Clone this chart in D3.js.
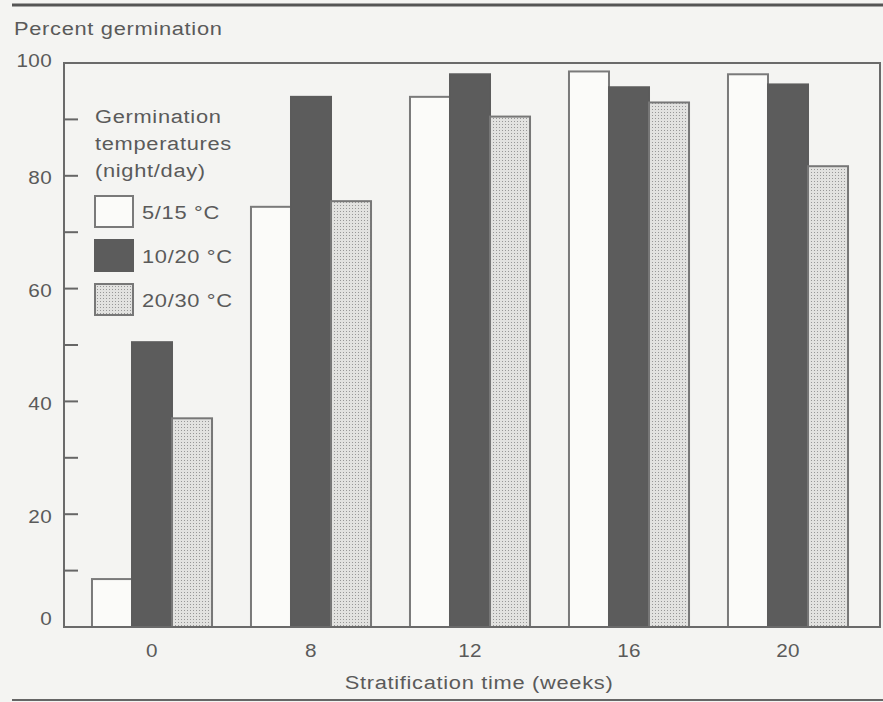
<!DOCTYPE html>
<html><head><meta charset="utf-8">
<script src="https://cdn.jsdelivr.net/npm/d3@7"></script>
<style>html,body{margin:0;padding:0;background:#f4f4f2;}svg{display:block;font-family:"Liberation Sans",Arial,sans-serif;}</style>
</head><body>
<script>
const categories = ["0", "8", "12", "16", "20"];
const seriesNames = ["5/15 °C", "10/20 °C", "20/30 °C"];
const s5_15 = [8.5, 74.5, 94, 98.5, 98];
const s10_20 = [50.5, 94, 98, 95.7, 96.2];
const s20_30 = [37, 75.5, 90.5, 93, 81.7];
const yTicks = [0, 20, 40, 60, 80, 100];
const yMinorTicks = [10, 20, 30, 40, 50, 60, 70, 80, 90];
const seriesValues = [s5_15, s10_20, s20_30];

(function () {
const W = 883, H = 702;
const svg = d3.select("body").append("svg").attr("width", W).attr("height", H);
svg.append("rect").attr("width", W).attr("height", H).attr("fill", "#f4f4f2");

const defs = svg.append("defs");
const pat = defs.append("pattern").attr("id", "dots").attr("patternUnits", "userSpaceOnUse")
  .attr("width", 3).attr("height", 3);
pat.append("rect").attr("width", 3).attr("height", 3).attr("fill", "#e2e2e0");
pat.append("rect").attr("x", 1).attr("y", 1).attr("width", 1).attr("height", 1).attr("fill", "#979797");

const mLeft = 64, mRight = 880, mTop = 63, mBottom = 627;
const y = d3.scaleLinear().domain([0, 100]).range([mBottom, mTop]);
const x0 = d3.scaleBand().domain(categories).range([72.5, 867.5]).paddingInner(0.245).paddingOuter(0.1225);
const x1 = d3.scaleBand().domain(d3.range(seriesNames.length)).range([0, x0.bandwidth()]);

const fills = ["#fbfbf9", "#5c5c5c", "url(#dots)"];
const strokes = ["#7a7a7a", "#5c5c5c", "#777"];
const textCol = "#5a5a5a";
const SX = 1.15;

function label(parent, x, yy, txt, size, anchor, dy) {
  const t = parent.append("text")
    .attr("transform", `translate(${x},${yy}) scale(${SX},1)`)
    .attr("text-anchor", anchor || "start")
    .attr("fill", textCol)
    .attr("font-size", size)
    .attr("letter-spacing", size >= 19 ? 0.6 : 0.3)
    .text(txt);
  if (dy) t.attr("dy", dy);
  return t;
}

svg.append("line").attr("x1", 12).attr("x2", W).attr("y1", 5).attr("y2", 5).attr("stroke", "#555").attr("stroke-width", 3);
svg.append("line").attr("x1", 12).attr("x2", W).attr("y1", 700).attr("y2", 700).attr("stroke", "#666").attr("stroke-width", 2);

const g = svg.append("g");
categories.forEach((c, i) => {
  seriesValues.forEach((vals, s) => {
    g.append("rect")
      .attr("x", x0(c) + x1(s))
      .attr("y", y(vals[i]))
      .attr("width", x1.bandwidth())
      .attr("height", y(0) - y(vals[i]))
      .attr("fill", fills[s])
      .attr("stroke", strokes[s])
      .attr("stroke-width", 2);
  });
});

svg.append("rect").attr("x", mLeft).attr("y", mTop).attr("width", mRight - mLeft).attr("height", mBottom - mTop)
  .attr("fill", "none").attr("stroke", "#6a6a6a").attr("stroke-width", 2);

svg.append("g").selectAll("line").data(yMinorTicks).join("line")
  .attr("x1", mLeft).attr("x2", mLeft + 14).attr("y1", d => y(d)).attr("y2", d => y(d))
  .attr("stroke", "#666").attr("stroke-width", 2);

const yl = svg.append("g");
yTicks.forEach(d => label(yl, 52, y(d) + (d === 0 ? -8 : (d === 100 ? -2 : 2)), d, 18, "end", "0.35em"));

const xl = svg.append("g");
categories.forEach(d => label(xl, x0(d) + x0.bandwidth() / 2, 657, d, 18, "middle"));

label(svg, 479, 689, "Stratification time (weeks)", 19, "middle");
label(svg, 14, 35, "Percent germination", 19, "start");

const lg = svg.append("g");
["Germination", "temperatures", "(night/day)"].forEach((t, i) => {
  label(lg, 95, 123 + i * 27, t, 19, "start");
});
seriesNames.forEach((n, i) => {
  const yy = 196 + i * 44;
  lg.append("rect").attr("x", 95).attr("y", yy).attr("width", 38).attr("height", 31)
    .attr("fill", fills[i]).attr("stroke", strokes[i]).attr("stroke-width", 2);
  label(lg, 142, yy + 23, n, 19, "start");
});
})();
</script>
</body></html>
